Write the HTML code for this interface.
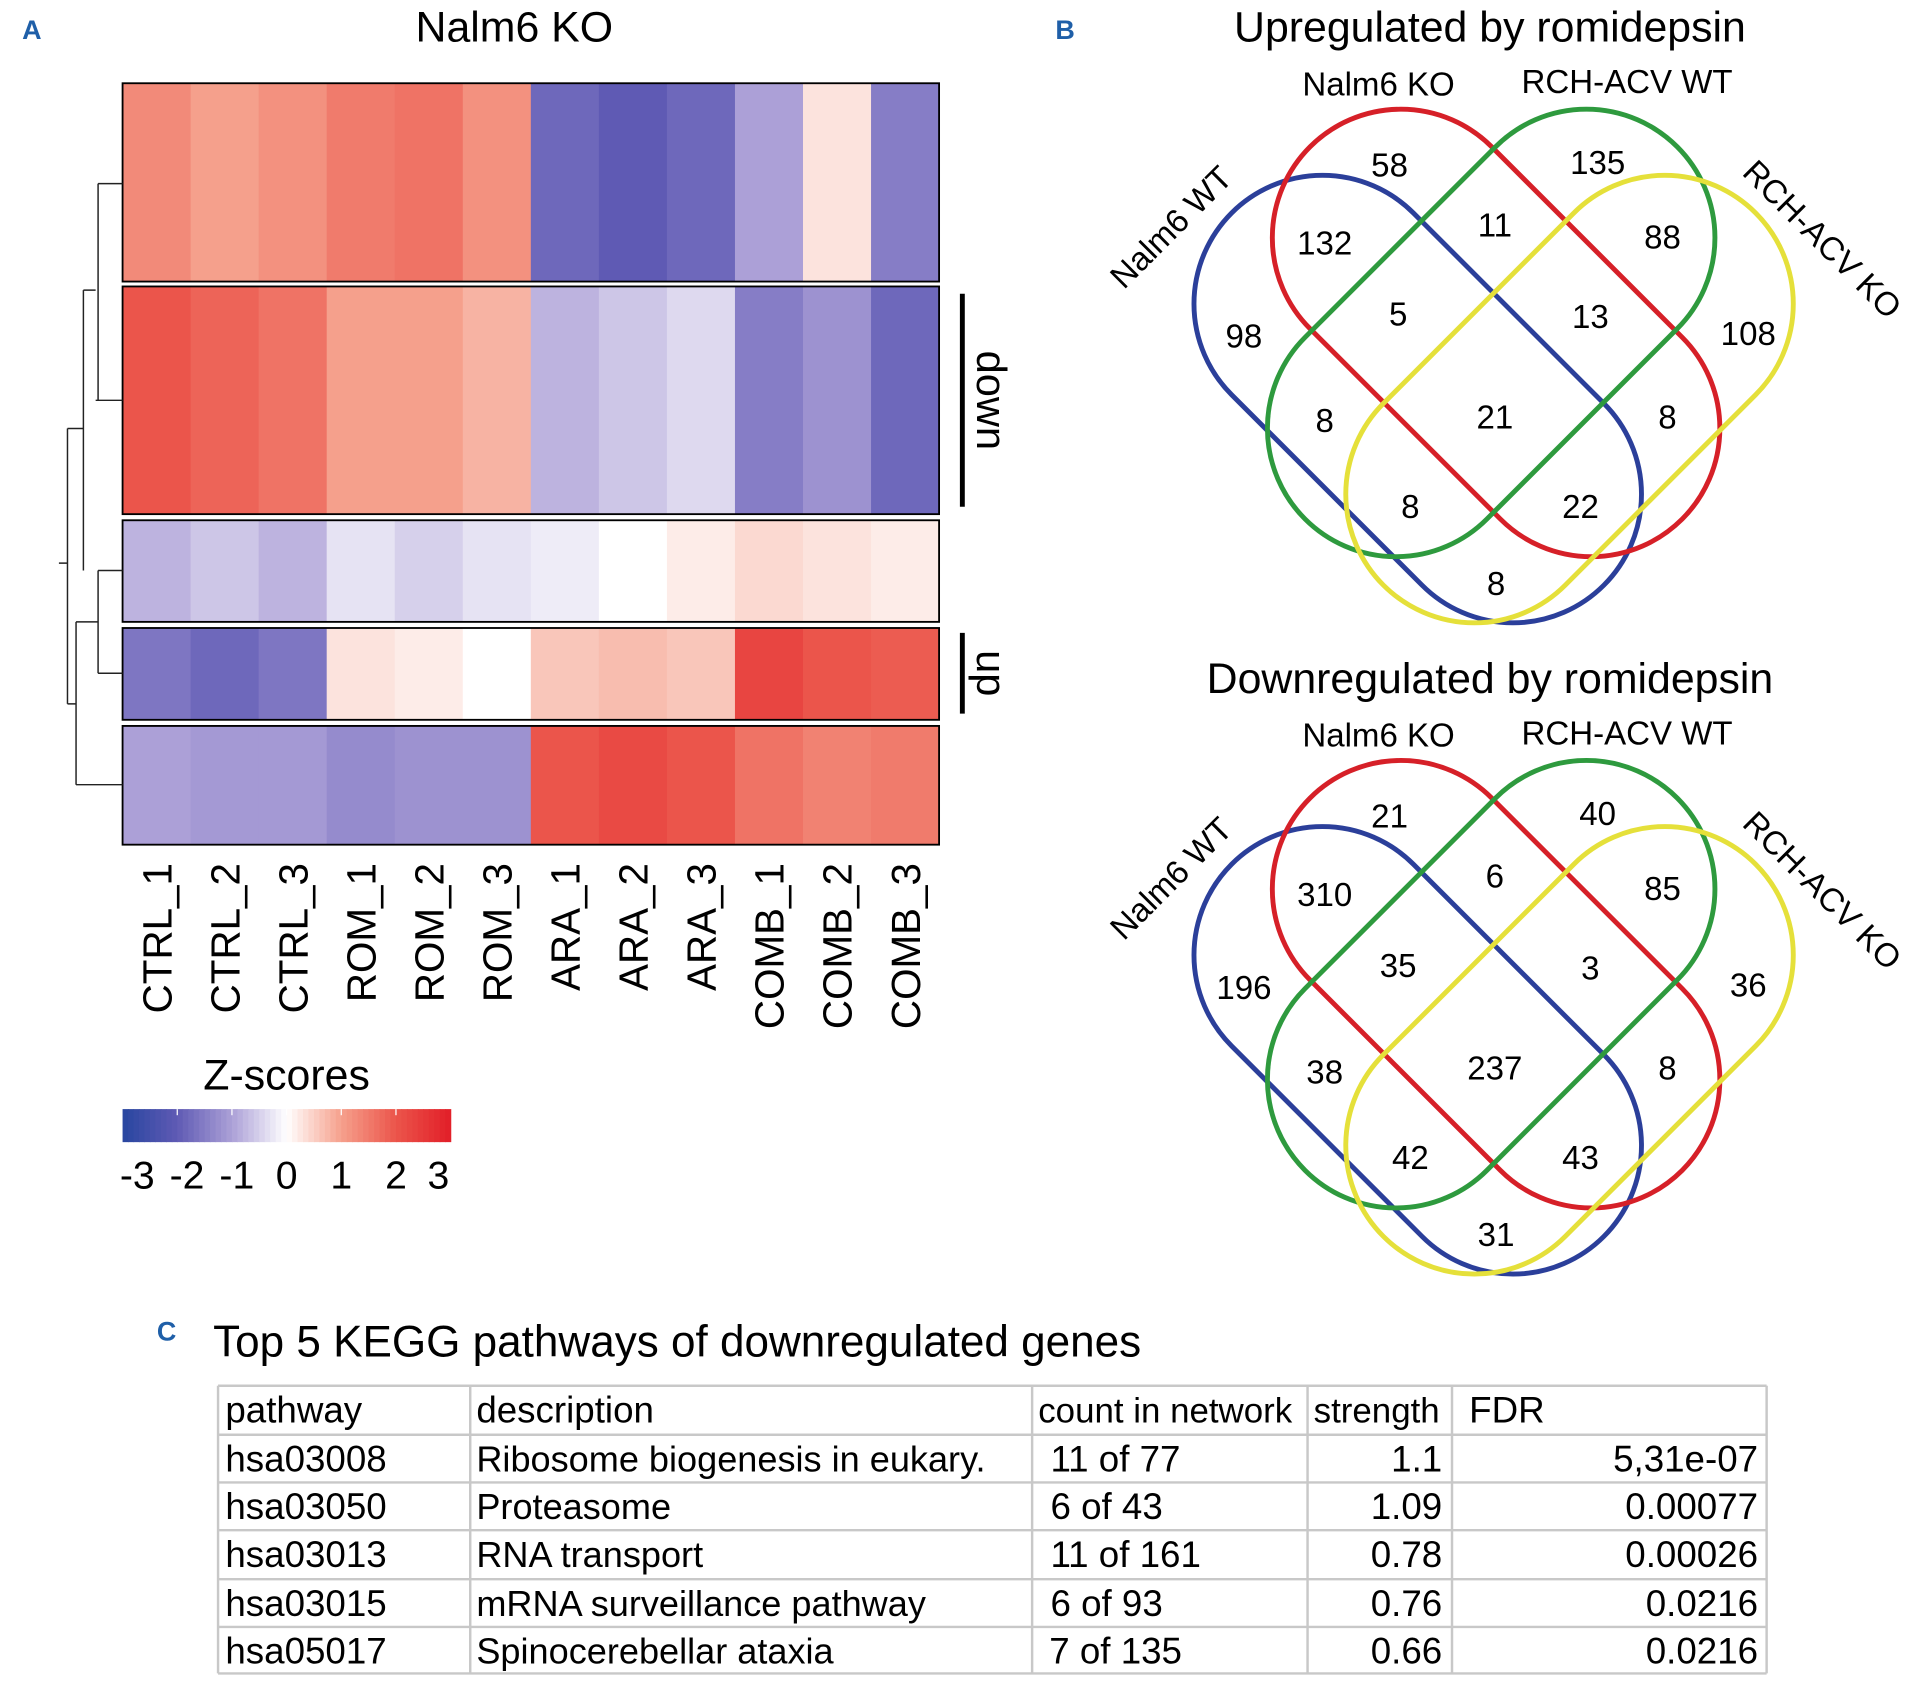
<!DOCTYPE html>
<html><head><meta charset="utf-8"><style>
html,body{margin:0;padding:0;background:#fff;}
svg{display:block;font-family:"Liberation Sans",Arial,sans-serif;}
</style></head><body>
<svg id="fig" width="1910" height="1682" viewBox="0 0 1560 1374" xmlns="http://www.w3.org/2000/svg">
<text x="18" y="32" font-size="22" font-weight="bold" fill="#1f5fa8">A</text>
<text x="862" y="32" font-size="22" font-weight="bold" fill="#1f5fa8">B</text>
<text x="128" y="1095" font-size="22" font-weight="bold" fill="#1f5fa8">C</text>
<text x="420" y="34" font-size="35" text-anchor="middle">Nalm6 KO</text>
<g id="heat"></g>
<g id="dendro" stroke="#222" stroke-width="1.2" fill="none"></g>
<g id="collabels"></g>
<line x1="786" y1="240" x2="786" y2="414" stroke="#000" stroke-width="4"/>
<text transform="translate(798,327) rotate(90)" font-size="34" text-anchor="middle">down</text>
<line x1="786" y1="517" x2="786" y2="583" stroke="#000" stroke-width="4"/>
<text transform="translate(798,550) rotate(90)" font-size="34" text-anchor="middle">up</text>
<text x="234" y="890" font-size="35" text-anchor="middle">Z-scores</text>
<g id="cbar"></g>
<g id="venns"></g>
<text x="174" y="1108" font-size="36">Top 5 KEGG pathways of downregulated genes</text>
<g id="table"></g>
<script>
const columns=["CTRL_1","CTRL_2","CTRL_3","ROM_1","ROM_2","ROM_3","ARA_1","ARA_2","ARA_3","COMB_1","COMB_2","COMB_3"];
const block1=[1.3,1.0,1.2,1.5,1.6,1.2,-1.8,-2.0,-1.8,-1.0,0.3,-1.5];
const block2=[2.0,1.8,1.6,1.0,1.0,0.8,-0.8,-0.6,-0.4,-1.5,-1.2,-1.8];
const block3=[-0.8,-0.6,-0.8,-0.3,-0.5,-0.3,-0.2,0.0,0.2,0.4,0.3,0.2];
const block4=[-1.6,-1.8,-1.6,0.3,0.2,0.0,0.6,0.7,0.6,2.3,2.0,1.9];
const block5=[-1.0,-1.1,-1.1,-1.3,-1.2,-1.2,2.0,2.2,2.0,1.6,1.4,1.5];
const blocks=[block1,block2,block3,block4,block5];
const colorTicks=["-3","-2","-1","0","1","2","3"];
const NS="http://www.w3.org/2000/svg";
function mk(t,a,p){const e=document.createElementNS(NS,t);for(const k in a)e.setAttribute(k,a[k]);p.appendChild(e);return e;}
const stops=[[40,70,160],[95,90,180],[172,160,215],[255,255,255],[245,160,140],[235,85,75],[225,30,40]];
function col(z){z=Math.max(-3,Math.min(3,z))+3;const i=Math.min(5,Math.floor(z)),f=z-i;const a=stops[i],b=stops[i+1];return`rgb(${a.map((v,k)=>Math.round(v+(b[k]-v)*f)).join(",")})`;}
const hx0=100,hx1=767,cw=(hx1-hx0)/columns.length;
const bY=[[68,230],[234,420],[425,508],[513,588],[593,690]];
const heat=document.getElementById('heat');
blocks.forEach((blk,bi)=>{
  const [y0,y1]=bY[bi];
  blk.forEach((v,ci)=>{
    const r=mk('rect',{x:hx0+ci*cw,y:y0,width:cw+0.5,height:y1-y0,fill:col(v)},heat);
    
    
  });
  const b=mk('rect',{x:hx0,y:y0,width:hx1-hx0,height:y1-y0,fill:'none',stroke:'#000','stroke-width':1.5},heat);
  
  
});
const dd=document.getElementById('dendro');
const dpath="M100 150 H80 M100 327 H78 M100 466 H80 M100 550 H80 M100 641 H80 M80 150 V327 M78 237 H68 M68 237 V466 M80 466 V550 M80 508 H62 M62 508 V641 M80 641 H62 M68 350 H55 M62 575 H55 M55 350 V575 M55 460 H48";
mk('path',{d:dpath},dd);
const cl=document.getElementById('collabels');
columns.forEach((c,i)=>{const t=mk('text',{transform:`translate(${hx0+cw*(i+0.5)+12},705) rotate(-90)`,'font-size':33,'text-anchor':'end'},cl);t.textContent=c;

});
const cb=document.getElementById('cbar');
for(let i=0;i<60;i++){const z=-3+6*(i+0.5)/60;mk('rect',{x:100+i*268/60,y:906,width:268/60+0.5,height:27,fill:col(z)},cb);}
colorTicks.forEach((t,i)=>{const x=100+i*268/6+(i==0?12:i==6?-10:i==1?8:i==2?4:0);const e=mk('text',{x:x,y:971,'font-size':32,'text-anchor':'middle'},cb);e.textContent=t;

});
for(let i=1;i<6;i++){mk('line',{x1:100+i*268/12*2,y1:906,x2:100+i*268/12*2,y2:911,stroke:'#fff'},cb);}
// Venns
const upCounts=["58","135","132","11","88","98","5","13","108","8","21","8","8","22","8"];
const downCounts=["21","40","310","6","85","196","35","3","36","38","237","8","42","43","31"];
const regionPos=[[1135,134],[1305,132],[1082,198],[1221,183],[1358,193],[1016,274],[1142,256],[1299,258],[1428,272],[1082,343],[1221,340],[1362,340],[1152,413],[1291,413],[1222,476]];
const venns=document.getElementById('venns');
function venn(dy,title,counts,name){
  const g=mk('g',{},venns);
  
  
  let t=mk('text',{x:1217,y:34+dy,'font-size':35,'text-anchor':'middle'},g);t.textContent=title;
  t=mk('text',{x:1126,y:78+dy,'font-size':27,'text-anchor':'middle'},g);t.textContent="Nalm6 KO";
  t=mk('text',{x:1329,y:76+dy,'font-size':27,'text-anchor':'middle'},g);t.textContent="RCH-ACV WT";
  t=mk('text',{'font-size':27,'text-anchor':'middle',transform:`translate(963,${192+dy}) rotate(-45)`},g);t.textContent="Nalm6 WT";
  t=mk('text',{'font-size':27,'text-anchor':'middle',transform:`translate(1482,${202+dy}) rotate(45)`},g);t.textContent="RCH-ACV KO";
  const ells=[["#2b3f9a",1158,326,45],["#d62028",1222,272,45],["#2e9a3e",1218,272,-45],["#e5e03a",1282,326,-45]];
  ells.forEach(([c,cx,cy,a])=>{mk('rect',{x:cx-215,y:cy+dy-105,width:430,height:210,rx:105,ry:105,fill:'none',stroke:c,'stroke-width':4,transform:`rotate(${a} ${cx} ${cy+dy})`},g);});
  counts.forEach((n,i)=>{const e=mk('text',{x:regionPos[i][0],y:regionPos[i][1]+dy+10,'font-size':27,'text-anchor':'middle'},g);e.textContent=n;
  
  });
}
venn(0,"Upregulated by romidepsin",upCounts,"venn-upregulated");
venn(532,"Downregulated by romidepsin",downCounts,"venn-downregulated");
// Table
const headers=["pathway","description","count in network","strength","FDR"];
const pathways=["hsa03008","hsa03050","hsa03013","hsa03015","hsa05017"];
const descriptions=["Ribosome biogenesis in eukary.","Proteasome","RNA transport","mRNA surveillance pathway","Spinocerebellar ataxia"];
const counts=["11 of 77","6 of 43","11 of 161","6 of 93","7 of 135"];
const strengths=["1.1","1.09","0.78","0.76","0.66"];
const fdrs=["5,31e-07","0.00077","0.00026","0.0216","0.0216"];
const tb=document.getElementById('table');
const cx=[178,384,843,1068,1186,1443];const ry=[1132,1172,1211,1250,1290,1329,1367];
ry.forEach(y=>mk('line',{x1:178,x2:1443,y1:y,y2:y,stroke:'#c8c8c8','stroke-width':2},tb));
cx.forEach(x=>mk('line',{x1:x,x2:x,y1:1132,y2:1367,stroke:'#c8c8c8','stroke-width':2},tb));
function cell(txt,x,y,anchor,fs){const e=mk('text',{x:x,y:y,'font-size':fs||30,'text-anchor':anchor||'start'},tb);e.textContent=txt;

}
const hx=[184,389,848,1073,1200];headers.forEach((h,i)=>cell(h,hx[i],1162,'start',i==2||i==3?28.5:30));
pathways.forEach((p,i)=>{const y=ry[i+1]+30;cell(p,184,y);cell(descriptions[i],389,y,'start',29.5);cell(counts[i],i==4?857:858,y);cell(strengths[i],1178,y,'end');cell(fdrs[i],1436,y,'end');});
</script>
</svg>
</body></html>
